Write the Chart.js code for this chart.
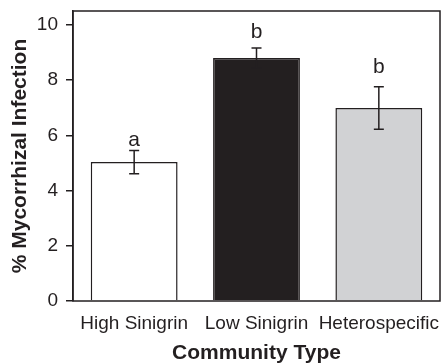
<!DOCTYPE html>
<html>
<head>
<meta charset="utf-8">
<script src="https://cdn.jsdelivr.net/npm/chart.js@4.4.1/dist/chart.umd.min.js"></script>
<style>
  html, body { margin: 0; padding: 0; background: #ffffff; }
  #wrap { width: 448px; height: 363px; }
</style>
</head>
<body>
<div id="wrap"><canvas id="chart" width="448" height="363"></canvas></div>
<script>
// ── Data ───────────────────────────────────────────────────────────────────
const categories   = ['High Sinigrin', 'Low Sinigrin', 'Heterospecific'];
const meanValues   = [5.03, 8.80, 6.99];
const errValues    = [0.42, 0.36, 0.77];
const groupLetters = ['a', 'b', 'b'];
const letterLevels = [5.63, 9.52, 8.25];   // baseline of the letters, in axis units
const yTickValues  = [0, 2, 4, 6, 8, 10];
const barColors    = ['#ffffff', '#231f20', '#d1d2d4'];

const INK = '#231f20';
const FONT = 'Liberation Sans, Arial, Helvetica, sans-serif';

// ── Plot frame + error bars + letters ──────────────────────────────────────
const extras = {
    id: 'extras',
    afterDatasetsDraw(chart) {
        const { ctx, chartArea: a, scales: { y } } = chart;
        ctx.save();
        ctx.strokeStyle = INK;
        ctx.lineWidth = 1.5;
        ctx.strokeRect(a.left, a.top, a.right - a.left, a.bottom - a.top);

        const meta = chart.getDatasetMeta(0);
        meta.data.forEach((bar, i) => {
            const cx = bar.x;
            const hi = y.getPixelForValue(meanValues[i] + errValues[i]);
            const lo = y.getPixelForValue(meanValues[i] - errValues[i]);
            ctx.beginPath();
            ctx.moveTo(cx, hi); ctx.lineTo(cx, lo);
            ctx.moveTo(cx - 5, hi); ctx.lineTo(cx + 5, hi);
            ctx.moveTo(cx - 5, lo); ctx.lineTo(cx + 5, lo);
            ctx.stroke();

            ctx.fillStyle = INK;
            ctx.font = '21px ' + FONT;
            ctx.textAlign = 'center';
            ctx.textBaseline = 'alphabetic';
            ctx.fillText(groupLetters[i], cx, y.getPixelForValue(letterLevels[i]));
        });
        ctx.restore();
    }
};

new Chart(document.getElementById('chart'), {
    type: 'bar',
    data: {
        labels: categories,
        datasets: [{
            data: meanValues,
            backgroundColor: barColors,
            borderColor: INK,
            borderWidth: 1.5,
            borderSkipped: 'start',
            barPercentage: 0.71,
            categoryPercentage: 1
        }]
    },
    options: {
        responsive: false,
        animation: false,
        layout: { padding: { top: 11, right: 8, left: 0, bottom: 0 } },
        plugins: { legend: { display: false }, tooltip: { enabled: false } },
        scales: {
            x: {
                afterFit: s => { s.height = 62; s.paddingLeft = 0; s.paddingRight = 0; },
                grid: { display: false, drawTicks: false },
                border: { display: false },
                ticks: { color: INK, font: { family: FONT, size: 19 }, padding: 11, maxRotation: 0, autoSkip: false },
                title: {
                    display: true, text: 'Community Type', color: INK,
                    font: { family: FONT, size: 21, weight: 'bold' }, padding: { top: 0, bottom: -3 }
                }
            },
            y: {
                min: 0, max: 10.5,
                afterFit: s => { s.width = 73; s.paddingTop = 0; s.paddingBottom = 0; },
                afterBuildTicks: s => { s.ticks = yTickValues.map(v => ({ value: v })); },
                grid: { drawOnChartArea: false, drawTicks: true, tickLength: 7, color: INK, lineWidth: 1.5 },
                border: { display: true, color: INK, width: 1.5 },
                ticks: { color: INK, font: { family: FONT, size: 19 }, padding: 8 },
                title: {
                    display: true, text: '% Mycorrhizal Infection', color: INK,
                    font: { family: FONT, size: 21, weight: 'bold' }, padding: { top: 8, bottom: 0 }
                }
            }
        }
    },
    plugins: [extras]
});
</script>
</body>
</html>
